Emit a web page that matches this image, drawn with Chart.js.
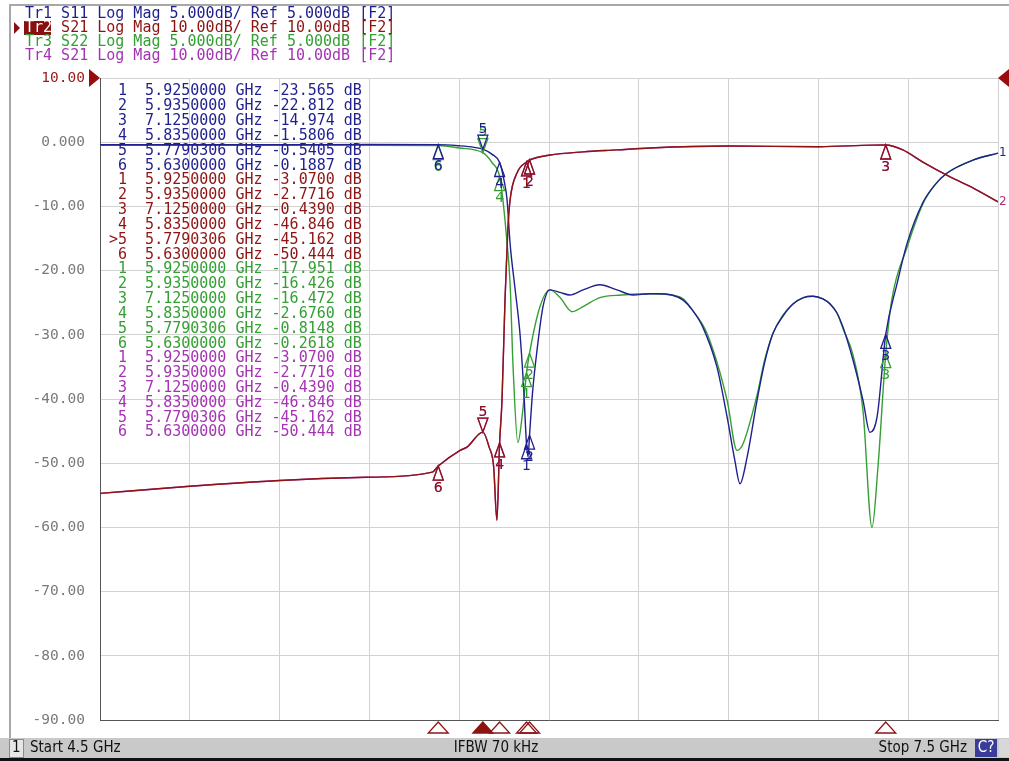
<!DOCTYPE html>
<html>
<head>
<meta charset="utf-8">
<script src="https://cdn.jsdelivr.net/npm/chart.js@4.4.0/dist/chart.umd.min.js"></script>
<style>
  html, body { margin: 0; padding: 0; background: #fff; }
  canvas { display: block; }
</style>
</head>
<body>
<canvas id="vna" width="1009" height="761"></canvas>
<script>
// grid ticks
const xTicks = [4.5, 4.8, 5.1, 5.4, 5.7, 6.0, 6.3, 6.6, 6.9, 7.2, 7.5];
const yTicks = [10, 0, -10, -20, -30, -40, -50, -60, -70, -80, -90];

// Tr1 S11 (5 dB/div)
const s11Freq = [4.5, 4.8, 5.1, 5.4, 5.63, 5.7, 5.75, 5.7790306, 5.81, 5.835, 5.85, 5.86, 5.87, 5.886, 5.903, 5.915, 5.925, 5.93, 5.935, 5.945, 5.96, 5.98, 6.003, 6.037, 6.07, 6.114, 6.17, 6.227, 6.281, 6.337, 6.361, 6.41, 6.448, 6.48, 6.514, 6.561, 6.595, 6.621, 6.638, 6.662, 6.695, 6.72, 6.748, 6.78, 6.815, 6.85, 6.882, 6.915, 6.939, 6.962, 6.982, 7.016, 7.049, 7.072, 7.096, 7.125, 7.163, 7.196, 7.249, 7.29, 7.33, 7.416, 7.5];
const s11Db = [-0.2, -0.2, -0.2, -0.18, -0.1887, -0.28, -0.4, -0.5405, -0.95, -1.5806, -3.0, -4.5, -7.9, -11.3, -14.9, -19.0, -23.565, -24.5, -22.812, -19.5, -16.2, -12.8, -11.5, -11.7, -11.9, -11.5, -11.1, -11.5, -11.9, -11.8, -11.8, -11.9, -12.3, -13.1, -14.4, -17.5, -21.4, -24.8, -26.6, -24.5, -20.1, -17.2, -14.9, -13.6, -12.6, -12.1, -12.0, -12.2, -12.6, -13.3, -14.4, -17.0, -20.1, -22.6, -21.4, -14.974, -11.0, -7.9, -4.7, -3.3, -2.4, -1.4, -0.85];

// Tr3 S22 (5 dB/div)
const s22Freq = [4.5, 4.8, 5.1, 5.4, 5.63, 5.7, 5.7790306, 5.81, 5.835, 5.846, 5.857, 5.87, 5.88, 5.896, 5.91, 5.925, 5.935, 5.97, 6.003, 6.037, 6.077, 6.114, 6.17, 6.243, 6.337, 6.41, 6.448, 6.48, 6.528, 6.595, 6.628, 6.648, 6.695, 6.72, 6.748, 6.78, 6.815, 6.85, 6.882, 6.915, 6.939, 6.962, 6.982, 7.016, 7.049, 7.079, 7.099, 7.125, 7.145, 7.196, 7.249, 7.29, 7.33, 7.416, 7.5];
const s22Db = [-0.25, -0.25, -0.25, -0.25, -0.2618, -0.45, -0.8148, -1.6, -2.676, -4.5, -7.1, -11.0, -17.5, -23.4, -21.4, -17.951, -16.426, -12.8, -11.5, -12.1, -13.2, -12.8, -12.1, -11.9, -11.8, -11.9, -12.2, -13.1, -14.9, -20.1, -24.0, -23.5, -19.7, -17.0, -14.9, -13.5, -12.6, -12.1, -12.0, -12.2, -12.6, -13.3, -14.5, -16.6, -20.9, -30.0, -25.3, -16.472, -12.3, -8.2, -4.8, -3.3, -2.4, -1.4, -0.85];

// Tr2 / Tr4 S21 (10 dB/div)
const s21Freq = [4.5, 4.8, 5.1, 5.39, 5.61, 5.63, 5.703, 5.726, 5.7790306, 5.8, 5.815, 5.826, 5.835, 5.843, 5.853, 5.862, 5.87, 5.893, 5.925, 5.935, 6.003, 6.114, 6.227, 6.337, 6.601, 6.902, 7.079, 7.125, 7.182, 7.249, 7.34, 7.416, 7.5];
const s21Db = [-54.7, -53.6, -52.7, -52.2, -51.4, -50.444, -48.0, -47.5, -45.162, -47.5, -50.5, -58.9, -46.846, -40.2, -24.6, -14.0, -9.0, -4.8, -3.07, -2.7716, -2.0, -1.5, -1.2, -0.9, -0.6, -0.7, -0.45, -0.439, -1.2, -3.1, -5.4, -7.1, -9.3];

// marker table
const markerNums = [1, 2, 3, 4, 5, 6];
const markerFreq = [5.925, 5.935, 7.125, 5.835, 5.7790306, 5.63];
const tr1Marks = [-23.565, -22.812, -14.974, -1.5806, -0.5405, -0.1887];
const tr2Marks = [-3.07, -2.7716, -0.439, -46.846, -45.162, -50.444];
const tr3Marks = [-17.951, -16.426, -16.472, -2.676, -0.8148, -0.2618];
const tr4Marks = [-3.07, -2.7716, -0.439, -46.846, -45.162, -50.444];

const headerLines = [
  ['Tr1', 'S11 Log Mag 5.000dB/ Ref 5.000dB [F2]'],
  ['Tr2', 'S21 Log Mag 10.00dB/ Ref 10.00dB [F2]'],
  ['Tr3', 'S22 Log Mag 5.000dB/ Ref 5.000dB [F2]'],
  ['Tr4', 'S21 Log Mag 10.00dB/ Ref 10.00dB [F2]']
];

const BLUE = '#1f1f8f';
const RED = '#8e1414';
const GREEN = '#34a034';
const PURPLE = '#a533b4';
const MONO = '"DejaVu Sans Mono", monospace';

const traces = [
  { name: 'Tr1', color: BLUE, axis: 'y2', marks: tr1Marks, order: 1 },
  { name: 'Tr2', color: RED, axis: 'y', marks: tr2Marks, order: 0 },
  { name: 'Tr3', color: GREEN, axis: 'y2', marks: tr3Marks, order: 2 },
  { name: 'Tr4', color: PURPLE, axis: 'y', marks: tr4Marks, order: 3 }
];

function pts(fs, vs) {
  return fs.map((f, i) => ({ x: f, y: vs[i] }));
}

function fmtDb(v) {
  return Math.abs(v) < 10 ? v.toFixed(4) : v.toFixed(3);
}

function tri(ctx, x, y, w, h, down, fill, color) {
  ctx.beginPath();
  if (down) {
    ctx.moveTo(x, y);
    ctx.lineTo(x - w / 2, y - h);
    ctx.lineTo(x + w / 2, y - h);
  } else {
    ctx.moveTo(x, y);
    ctx.lineTo(x - w / 2, y + h);
    ctx.lineTo(x + w / 2, y + h);
  }
  ctx.closePath();
  if (fill) {
    ctx.fillStyle = color;
    ctx.fill();
  }
  ctx.strokeStyle = color;
  ctx.lineWidth = 1.3;
  ctx.stroke();
}

const vnaPlugin = {
  id: 'vna',
  beforeDraw(chart) {
    const ctx = chart.ctx;
    ctx.save();
    ctx.fillStyle = '#fff';
    ctx.fillRect(0, 0, chart.width, chart.height);
    ctx.restore();
  },
  afterDatasetsDraw(chart) {
    const ctx = chart.ctx;
    const xs = chart.scales.x;
    const area = chart.chartArea;
    ctx.save();

    // trace markers
    ctx.font = '14px "DejaVu Sans", sans-serif';
    ctx.textAlign = 'center';
    [3, 2, 0, 1].forEach(ti => {
      const t = traces[ti];
      const ys = chart.scales[t.axis];
      markerNums.forEach((n, i) => {
        const px = xs.getPixelForValue(markerFreq[i]);
        const py = ys.getPixelForValue(t.marks[i]);
        ctx.fillStyle = t.color;
        if (n === 5) {
          tri(ctx, px, py, 10, 14, true, false, t.color);
          ctx.textBaseline = 'bottom';
          ctx.fillText(String(n), px, py - 13);
        } else {
          tri(ctx, px, py, 10, 14, false, false, t.color);
          ctx.textBaseline = 'top';
          ctx.fillText(String(n), px, py + 15);
        }
      });
    });

    // marker table
    ctx.font = '15px ' + MONO;
    ctx.textAlign = 'left';
    ctx.textBaseline = 'middle';
    let row = 0;
    traces.forEach(t => {
      markerNums.forEach((n, i) => {
        const active = t.name === 'Tr2' && n === 5;
        const line = (active ? '>' : ' ') + n + '  ' + markerFreq[i].toFixed(7) + ' GHz ' + fmtDb(t.marks[i]) + ' dB';
        ctx.fillStyle = t.color;
        ctx.fillText(line, 109, 91.5 + row * 14.83);
        row++;
      });
    });

    // stimulus markers under the axis
    markerNums.forEach((n, i) => {
      const px = xs.getPixelForValue(markerFreq[i]);
      tri(ctx, px, area.bottom + 2, 20, 11, false, n === 5, RED);
    });

    // reference level arrows
    ctx.fillStyle = '#9a0c0c';
    ctx.beginPath();
    ctx.moveTo(area.left, area.top);
    ctx.lineTo(area.left - 11, area.top - 9);
    ctx.lineTo(area.left - 11, area.top + 9);
    ctx.closePath();
    ctx.fill();
    ctx.beginPath();
    ctx.moveTo(area.right, area.top);
    ctx.lineTo(area.right + 11, area.top - 9);
    ctx.lineTo(area.right + 11, area.top + 9);
    ctx.closePath();
    ctx.fill();

    // trace end numbers
    ctx.font = '12px "DejaVu Sans", sans-serif';
    ctx.textBaseline = 'middle';
    ctx.fillStyle = BLUE;
    ctx.fillText('1', area.right + 1, chart.scales.y2.getPixelForValue(s11Db[s11Db.length - 1]));
    ctx.fillStyle = '#b0307a';
    ctx.fillText('2', area.right + 1, chart.scales.y.getPixelForValue(s21Db[s21Db.length - 1]));
    ctx.restore();
  },
  afterDraw(chart) {
    const ctx = chart.ctx;
    ctx.save();

    // window frame
    ctx.strokeStyle = '#a8a8a8';
    ctx.lineWidth = 2;
    ctx.beginPath();
    ctx.moveTo(10, 738);
    ctx.lineTo(10, 5);
    ctx.lineTo(1009, 5);
    ctx.stroke();

    // header
    ctx.font = '15px ' + MONO;
    ctx.textBaseline = 'middle';
    ctx.textAlign = 'left';
    const hc = [BLUE, RED, GREEN, PURPLE];
    headerLines.forEach((h, i) => {
      const y = 14 + i * 14;
      if (i === 1) {
        ctx.fillStyle = '#8a0f0f';
        ctx.fillRect(24, y - 7, 27, 14);
        ctx.beginPath();
        ctx.moveTo(14, y - 6);
        ctx.lineTo(20, y);
        ctx.lineTo(14, y + 6);
        ctx.closePath();
        ctx.fill();
        ctx.fillStyle = '#fff';
      } else {
        ctx.fillStyle = hc[i];
      }
      ctx.fillText(h[0], 25, y);
      ctx.fillStyle = hc[i];
      ctx.fillText(h[1], 25 + 4 * 9.03, y);
    });

    // status bar
    ctx.fillStyle = '#c9c9c9';
    ctx.fillRect(0, 738, 1009, 21);
    ctx.fillStyle = '#111';
    ctx.fillRect(0, 758, 1009, 3);
    ctx.fillStyle = '#e6e6e6';
    ctx.fillRect(9, 739, 14, 18);
    ctx.strokeStyle = '#8a8a8a';
    ctx.lineWidth = 1;
    ctx.strokeRect(9.5, 739.5, 14, 18);
    ctx.fillStyle = '#3b3b9a';
    ctx.fillRect(975, 739, 22, 18);
    ctx.fillStyle = '#d8d8d8';
    ctx.fillRect(999, 739, 10, 18);

    ctx.font = '15px "Liberation Sans Narrow", "DejaVu Sans Condensed", sans-serif';
    ctx.textBaseline = 'middle';
    ctx.fillStyle = '#111';
    ctx.textAlign = 'left';
    ctx.fillText('1', 12, 748);
    ctx.fillText('Start 4.5 GHz', 30, 748);
    ctx.textAlign = 'center';
    ctx.fillText('IFBW 70 kHz', 496, 748);
    ctx.textAlign = 'right';
    ctx.fillText('Stop 7.5 GHz', 967, 748);
    ctx.textAlign = 'center';
    ctx.fillStyle = '#fff';
    ctx.fillText('C?', 986, 748);
    ctx.restore();
  }
};

const datasets = traces.map(t => {
  let data;
  if (t.name === 'Tr1') data = pts(s11Freq, s11Db);
  else if (t.name === 'Tr3') data = pts(s22Freq, s22Db);
  else data = pts(s21Freq, s21Db);
  return {
    label: t.name,
    data: data,
    yAxisID: t.axis,
    borderColor: t.color,
    borderWidth: 1.4,
    pointRadius: 0,
    cubicInterpolationMode: 'monotone',
    order: t.order
  };
});

new Chart(document.getElementById('vna'), {
  type: 'line',
  data: { datasets: datasets },
  plugins: [vnaPlugin],
  options: {
    responsive: false,
    animation: false,
    devicePixelRatio: 1,
    layout: { padding: { top: 78, bottom: 41, left: 0, right: 11 } },
    plugins: { legend: { display: false }, tooltip: { enabled: false } },
    scales: {
      x: {
        type: 'linear',
        min: 4.5,
        max: 7.5,
        afterBuildTicks: (s) => { s.ticks = xTicks.map(v => ({ value: v })); },
        afterFit: (s) => { s.height = 0; },
        ticks: { display: false },
        grid: { color: '#d2d2d2', drawTicks: false },
        border: { color: '#555', width: 1 }
      },
      y: {
        min: -90,
        max: 10,
        afterBuildTicks: (s) => { s.ticks = yTicks.map(v => ({ value: v })); },
        afterFit: (s) => { s.width = 100; },
        ticks: {
          padding: 15,
          font: { family: MONO, size: 14.5 },
          color: (c) => c.tick && c.tick.value === 10 ? '#9a1818' : '#7a7a7a',
          callback: (v) => v === 0 ? '0.000' : v.toFixed(2)
        },
        grid: { color: '#d2d2d2', drawTicks: false },
        border: { color: '#555', width: 1 }
      },
      y2: {
        display: false,
        min: -45,
        max: 5
      }
    }
  }
});
</script>
</body>
</html>
